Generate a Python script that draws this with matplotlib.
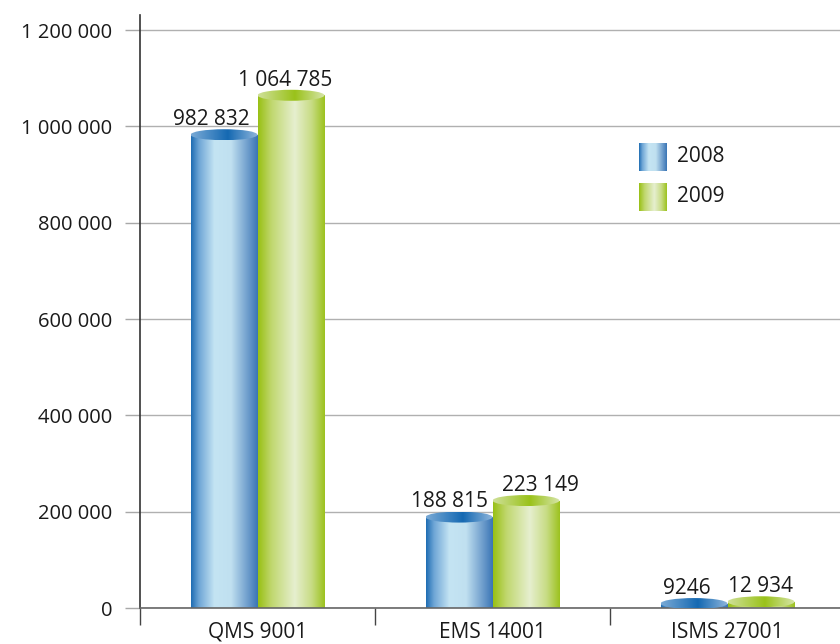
import matplotlib
matplotlib.use("Agg")
import matplotlib.pyplot as plt
import numpy as np
from matplotlib.colors import LinearSegmentedColormap
from matplotlib.patches import Ellipse

plt.rcParams['font.family'] = ['Open Sans', 'DejaVu Sans']

categories = ["QMS 9001", "EMS 14001", "ISMS 27001"]
years = ["2008", "2009"]
values_2008 = [982832, 188815, 9246]
values_2009 = [1064785, 223149, 12934]
yticks = [0, 200000, 400000, 600000, 800000, 1000000, 1200000]

# label nudges in pixels (to keep neighbouring labels apart)
nudge_2008 = [-13, -10, -7]
nudge_2009 = [-6, 14, 0]


def fmt(v):
    # thousands split by spaces, but not for 4-digit numbers
    if v < 10000:
        return str(v)
    return f"{v:,}".replace(",", " ")


body_blue = LinearSegmentedColormap.from_list("bb", [
    (0, '#1f6db3'), (0.12, '#6fa6d6'), (0.35, '#c4e4f3'),
    (0.6, '#c0e0f0'), (0.85, '#6e9dcc'), (1, '#3a75b5')])
body_green = LinearSegmentedColormap.from_list("bg", [
    (0, '#98c014'), (0.2, '#c0d76e'), (0.55, '#e6efcf'),
    (0.8, '#c8dc85'), (1, '#9cc21e')])
top_blue = LinearSegmentedColormap.from_list("tb", [
    (0, '#7aaad6'), (0.55, '#1569b2'), (1, '#8fb6dc')])
top_green = LinearSegmentedColormap.from_list("tg", [
    (0, '#cfe099'), (0.55, '#9ac21a'), (1, '#d6e5aa')])

grad = np.linspace(0, 1, 256).reshape(1, -1)

fig = plt.figure(figsize=(8.4, 6.44), dpi=100)
ax = fig.add_axes([140 / 840, 36 / 644, 705 / 840, 593 / 644])

ymax = 1231500
width = 0.285
cap_h = 11 * ymax / 593

x = np.arange(len(categories))
series = [(values_2008, x - width / 2, body_blue, top_blue, nudge_2008),
          (values_2009, x + width / 2, body_green, top_green, nudge_2009)]

for vals, pos, cbody, ctop, nudge in series:
    bars = ax.bar(pos, vals, width=width, facecolor='none', edgecolor='none', zorder=2)
    for b, v, xc, dx in zip(bars, vals, pos, nudge):
        x0, x1 = xc - width / 2, xc + width / 2
        im = ax.imshow(grad, extent=[x0, x1, 0, v], aspect='auto', cmap=cbody, zorder=2)
        im.set_clip_path(b)
        el = Ellipse((xc, v), width, cap_h, facecolor='none', edgecolor='none', zorder=3)
        ax.add_patch(el)
        im2 = ax.imshow(grad, extent=[x0, x1, v - cap_h / 2, v + cap_h / 2],
                        aspect='auto', cmap=ctop, zorder=3)
        im2.set_clip_path(el)
        ax.annotate(fmt(v), (xc, v + cap_h / 2),
                    xytext=(dx * 0.72, 3), textcoords='offset points',
                    ha='center', va='baseline', fontsize=15, color='#1a1a1a')

ax.set_xlim(-0.5, 2.5)
ax.set_ylim(0, ymax)

ax.set_yticks(yticks)
ax.set_yticklabels([fmt(t) for t in yticks], fontsize=14.5, color='#1a1a1a')
ax.tick_params(axis='y', length=11, width=1, color='#a8a8a8', pad=9)
ax.grid(axis='y', color='#b0b0b0', lw=1)
ax.set_axisbelow(True)

ax.set_xticks([-0.5, 0.5, 1.5])
ax.set_xticklabels([])
ax.tick_params(axis='x', which='major', length=12, width=1, color='#444444')
ax.set_xticks(x, minor=True)
ax.set_xticklabels(categories, minor=True, fontsize=15, color='#1a1a1a')
ax.tick_params(axis='x', which='minor', length=0, pad=10)

for s in ['top', 'right']:
    ax.spines[s].set_visible(False)
ax.spines['left'].set_color('#333333')
ax.spines['left'].set_linewidth(1.2)
ax.spines['bottom'].set_color('#666666')
ax.spines['bottom'].set_linewidth(1.2)

# legend swatches
for i, (yr, cm) in enumerate(zip(years, [body_blue, body_green])):
    top = 143 + i * 40
    sw = fig.add_axes([639 / 840, (644 - top - 28) / 644, 28 / 840, 28 / 644])
    sw.imshow(grad, aspect='auto', cmap=cm)
    sw.axis('off')
    fig.text(677 / 840, (644 - top - 14) / 644, yr, fontsize=15, va='center',
             ha='left', color='#1a1a1a')

fig.savefig("out.png", dpi=100)
